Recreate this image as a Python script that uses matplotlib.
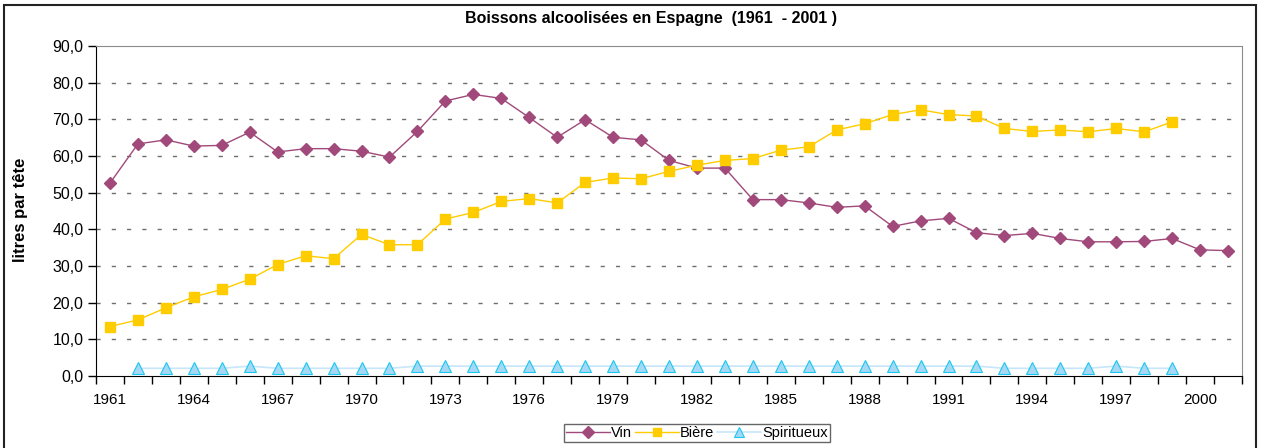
import numpy as np
import matplotlib
matplotlib.use('Agg')
import matplotlib.pyplot as plt
from matplotlib.lines import Line2D
from matplotlib.patches import Rectangle
from matplotlib.ticker import FuncFormatter

plt.rcParams['font.family'] = ['Liberation Sans', 'DejaVu Sans']

# consommation en litres par tete, Espagne 1961-2001
years = list(range(1961, 2002))
vin = [52.6, 63.3, 64.4, 62.7, 62.9, 66.5, 61.1, 62.0, 62.0, 61.3,
       59.7, 66.7, 75.0, 76.8, 75.7, 70.5, 65.1, 69.9, 65.1, 64.4,
       58.8, 56.7, 56.7, 48.1, 48.1, 47.2, 46.0, 46.4, 40.8, 42.3,
       43.0, 39.1, 38.3, 38.9, 37.5, 36.6, 36.6, 36.7, 37.5, 34.4, 34.2]
biere_years = list(range(1961, 2000))
biere = [13.5, 15.3, 18.6, 21.6, 23.6, 26.4, 30.4, 32.8, 32.0, 38.6,
         35.8, 35.8, 42.8, 44.6, 47.6, 48.4, 47.2, 52.8, 54.0, 53.8,
         55.8, 57.5, 58.8, 59.3, 61.6, 62.5, 67.1, 68.8, 71.3, 72.6,
         71.3, 70.9, 67.5, 66.7, 67.1, 66.6, 67.5, 66.6, 69.3]
spirit_years = list(range(1962, 2000))
spiritueux = [2.1, 2.1, 2.1, 2.1, 2.7, 2.1, 2.1, 2.1, 2.1, 2.1,
              2.7, 2.7, 2.7, 2.7, 2.7, 2.7, 2.7, 2.7, 2.7, 2.7,
              2.7, 2.7, 2.7, 2.7, 2.7, 2.7, 2.7, 2.7, 2.7, 2.7,
              2.7, 2.1, 2.1, 2.1, 2.1, 2.7, 2.1, 2.1]
label_years = list(range(1961, 2001, 3))

vin_col = '#A0497A'
biere_col = '#FFCC00'
spirit_line = '#C6E6FA'
spirit_face = '#A6D8F5'
spirit_edge = '#18C8F0'

fig = plt.figure(figsize=(12.66, 4.48), dpi=100)
ax = fig.add_axes([96/1266, 1 - 376/448, (1242-96)/1266, (376-46)/448])

ax.plot(years, vin, color=vin_col, lw=1, marker='D', ms=6.5,
        mfc=vin_col, mec=vin_col, label='Vin', zorder=3)
ax.plot(biere_years, biere, color=biere_col, lw=1, marker='s', ms=7,
        mfc=biere_col, mec=biere_col, label='Bière', zorder=3)
ax.plot(spirit_years, spiritueux, color=spirit_line, lw=1.2, marker='^', ms=8.5,
        mfc=spirit_face, mec=spirit_edge, mew=0.8, label='Spiritueux', zorder=3)

ax.set_xlim(1960.5, 2001.5)
ax.set_ylim(0, 90)
ax.set_yticks(np.arange(0, 91, 10))
ax.yaxis.set_major_formatter(FuncFormatter(lambda v, p: ('%.1f' % v).replace('.', ',')))

# tick marks between categories, labels every three years
ax.set_xticks(np.arange(1960.5, 2002, 1))
ax.set_xticklabels([])
ax.set_xticks(label_years, minor=True)
ax.set_xticklabels([str(y) for y in label_years], minor=True)
ax.tick_params(axis='x', which='major', length=6, width=1, direction='out', color='black')
ax.tick_params(axis='x', which='minor', length=0, pad=12, labelsize=11)
ax.tick_params(axis='y', length=6, width=1, direction='out', labelsize=11.5, pad=3)

for y in range(10, 90, 10):
    ax.axhline(y, color='#6E6E6E', lw=1, ls=(0, (3, 8)), zorder=1)

ax.spines['left'].set_color('black')
ax.spines['bottom'].set_color('black')
ax.spines['top'].set_color('#8C8C8C')
ax.spines['right'].set_color('#8C8C8C')

ax.set_ylabel('litres par tête', fontsize=12, fontweight='bold')
ax.yaxis.set_label_coords(-0.0593, 0.503)

fig.text(651/1266, 1 - 18/448, 'Boissons alcoolisées en Espagne  (1961  - 2001 )',
         ha='center', va='center', fontsize=11.5, fontweight='bold')

handles = [Line2D([], [], color=vin_col, lw=1, marker='D', ms=6, mfc=vin_col, mec=vin_col),
           Line2D([], [], color=biere_col, lw=1, marker='s', ms=6, mfc=biere_col, mec=biere_col),
           Line2D([], [], color=spirit_line, lw=1.2, marker='^', ms=7,
                  mfc=spirit_face, mec=spirit_edge, mew=0.8)]
leg = fig.legend(handles, ['Vin', 'Bière', 'Spiritueux'], loc='center',
                 bbox_to_anchor=(697/1266, 1 - 433/448), ncol=3, fontsize=10.5,
                 frameon=True, fancybox=False, edgecolor='#404040',
                 handlelength=3, handletextpad=0.1, columnspacing=0.2,
                 borderpad=0.15, borderaxespad=0)
leg.get_frame().set_linewidth(1)

# outer chart border
fig.patches.append(Rectangle((4/1266, -0.1), (1256-4)/1266, 1.1 - 5/448,
                             transform=fig.transFigure, fill=False,
                             edgecolor='#222222', lw=1.5))

fig.savefig('out.png', dpi=100)
